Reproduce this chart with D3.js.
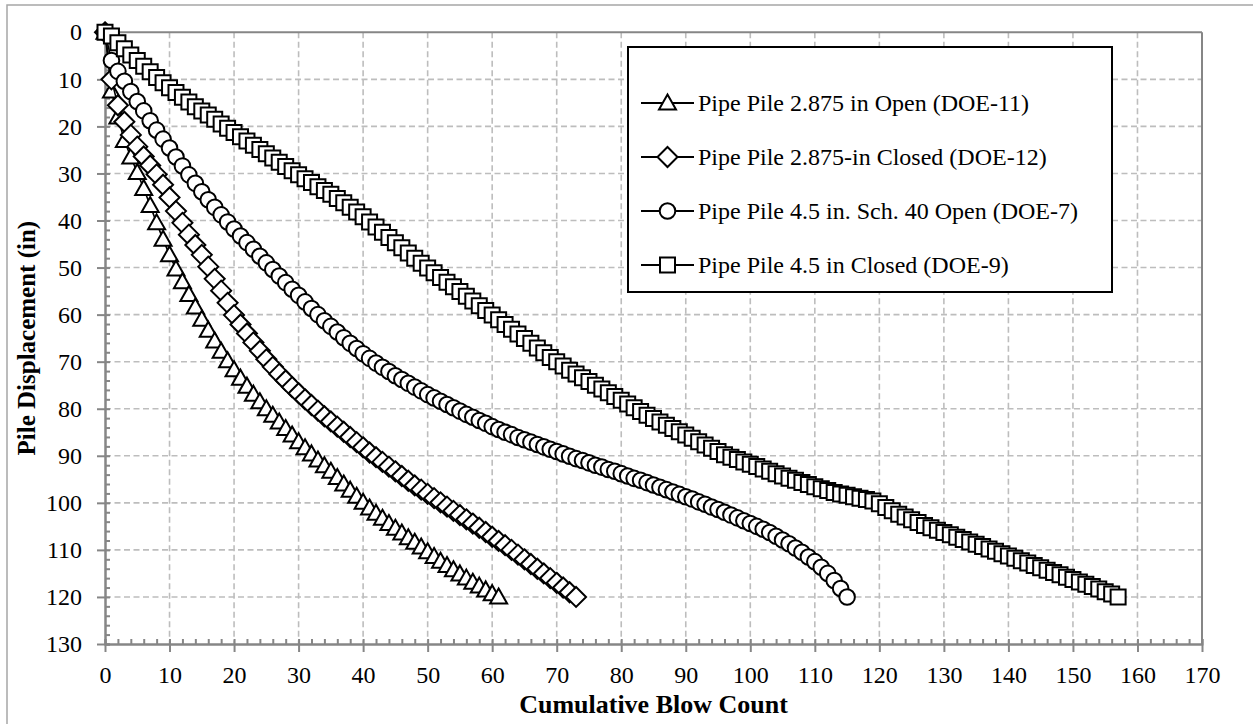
<!DOCTYPE html>
<html>
<head>
<meta charset="utf-8">
<script src="https://cdn.jsdelivr.net/npm/d3@7"></script>
<style>
  html, body { margin: 0; padding: 0; background: #fff; }
  svg { display: block; }
  text { font-family: "Times New Roman", "Liberation Serif", serif; fill: #000; }
</style>
</head>
<body>
<svg id="chart" width="1253" height="724"></svg>
<script>
// Cumulative pile displacement (in) after each blow; array index = cumulative blow count
const doe11 = [0,12.5,18,23,26.5,29.8,33.2,36.8,40.5,44,47.3,50.3,53,55.7,58.4,61,63.3,65.6,67.8,69.8,
  71.7,73.5,75.2,76.9,78.5,80,81.4,82.8,84.2,85.6,87,88.3,89.6,90.9,92.1,93.3,94.6,96,97.3,98.6,
  99.9,101.1,102.2,103.3,104.4,105.4,106.4,107.4,108.4,109.4,110.4,111.4,112.4,113.3,114.2,115.1,116,116.9,117.7,118.5,
  119.3,120];

const doe12 = [0,10,15.5,19,21.8,24.3,26.4,28.3,30.2,32.4,35.1,38,40.5,43,45.2,47.3,49.8,52.4,54.9,57.5,
  60.1,62.1,64,65.9,67.7,69.5,71.1,72.6,74,75.4,76.7,78,79.2,80.4,81.6,82.7,83.8,84.9,86,87.1,
  88.2,89.3,90.3,91.3,92.3,93.3,94.3,95.3,96.3,97.2,98.1,99,99.9,100.8,101.7,102.6,103.5,104.4,105.3,106.2,
  107.2,108.1,109,110,111,112,113,114,115,116,117,118,119,120];

const doe7 = [0,6,8.3,10.4,12.6,14.7,16.7,18.8,20.8,22.7,24.6,26.5,28.4,30.3,32.1,33.9,35.6,37.2,38.8,40.3,
  41.8,43.3,44.7,46.1,47.6,49,50.4,51.8,53.2,54.6,55.9,57.3,58.7,60,61.3,62.5,63.7,64.9,66.1,67.2,
  68.3,69.3,70.3,71.2,72.1,73,73.8,74.6,75.4,76.2,77,77.7,78.4,79.1,79.8,80.5,81.2,81.8,82.5,83.1,
  83.8,84.4,85,85.5,86.1,86.6,87.1,87.6,88.1,88.6,89.1,89.6,90.1,90.6,91,91.5,92,92.4,92.9,93.3,
  93.8,94.3,94.8,95.2,95.7,96.2,96.7,97.2,97.7,98.2,98.7,99.2,99.8,100.3,100.9,101.4,102,102.6,103.2,103.8,
  104.4,105,105.6,106.3,107.1,107.9,108.7,109.6,110.5,111.5,112.5,113.7,115,116.5,118.2,120];

const doe9 = [0,0.8,2.2,3.5,4.8,6,7.2,8.4,9.6,10.7,11.8,12.8,13.8,14.8,15.8,16.7,17.6,18.5,19.5,20.4,
  21.3,22.2,23.1,24,24.9,25.8,26.7,27.6,28.5,29.4,30.3,31.1,31.9,32.8,33.6,34.4,35.3,36.2,37.2,38.2,
  39.2,40.3,41.4,42.5,43.6,44.7,45.8,46.9,48,49.1,50.1,51.1,52.1,53.1,54.1,55.1,56.1,57.1,58.1,59.1,
  60.1,61.1,62.1,63.1,64.1,65.1,66.1,67.1,68.1,69.1,70,70.9,71.8,72.6,73.4,74.2,75,75.8,76.6,77.4,
  78.2,79,79.8,80.6,81.4,82.1,82.8,83.5,84.2,84.9,85.6,86.3,87,87.7,88.4,89.1,89.8,90.3,90.8,91.3,
  91.8,92.3,92.8,93.3,93.8,94.3,94.8,95.2,95.7,96.1,96.6,97,97.4,97.8,98.1,98.4,98.7,99,99.3,99.6,
  100.2,101,101.7,102.4,103,103.6,104.2,104.8,105.3,105.8,106.3,106.8,107.3,107.8,108.3,108.8,109.3,109.8,110.3,110.8,
  111.3,111.8,112.3,112.8,113.3,113.8,114.3,114.8,115.3,115.8,116.3,116.8,117.3,117.8,118.3,118.9,119.4,120];

const seriesNames = [
  "Pipe Pile 2.875 in Open (DOE-11)",
  "Pipe Pile 2.875-in Closed (DOE-12)",
  "Pipe Pile 4.5 in. Sch. 40 Open (DOE-7)",
  "Pipe Pile 4.5 in Closed (DOE-9)"
];
const seriesValues = [doe11, doe12, doe7, doe9];
const seriesSymbols = ["triangle", "diamond", "circle", "square"];

const xTicks = [0,10,20,30,40,50,60,70,80,90,100,110,120,130,140,150,160,170];
const yTicks = [0,10,20,30,40,50,60,70,80,90,100,110,120,130];
const xMinorTicks = d3.range(0, 171, 2);
const yMinorTicks = d3.range(0, 131, 2);

const xTitle = "Cumulative Blow Count";
const yTitle = "Pile Displacement (in)";

// ---------------------------------------------------------------
const svg = d3.select("#chart");
const plot = { left: 105, right: 1202, top: 32.3, bottom: 644 };
const x = d3.scaleLinear().domain([0, 170]).range([plot.left, plot.right]);
const y = d3.scaleLinear().domain([0, 130]).range([plot.top, plot.bottom]);

const axisGrey = "#868686";
const gridGrey = "#bdbdbd";

// outer chart frame
svg.append("rect")
  .attr("x", 7).attr("y", 5).attr("width", 1260).attr("height", 740)
  .attr("fill", "none").attr("stroke", "#a6a6a6").attr("stroke-width", 1.5);

// gridlines
const grid = svg.append("g");
grid.selectAll("line.v").data(xTicks.slice(1, -1)).join("line")
  .attr("x1", d => x(d)).attr("x2", d => x(d))
  .attr("y1", plot.top).attr("y2", plot.bottom)
  .attr("stroke", gridGrey).attr("stroke-width", 1.6).attr("stroke-dasharray", "6,3.5");
grid.selectAll("line.h").data(yTicks.slice(1, -1)).join("line")
  .attr("y1", d => y(d)).attr("y2", d => y(d))
  .attr("x1", plot.left).attr("x2", plot.right)
  .attr("stroke", gridGrey).attr("stroke-width", 1.6).attr("stroke-dasharray", "6,3.5");

// top and right frame of the plot area
svg.append("line").attr("x1", plot.left).attr("x2", plot.right).attr("y1", plot.top).attr("y2", plot.top)
  .attr("stroke", axisGrey).attr("stroke-width", 2);
svg.append("line").attr("x1", plot.right).attr("x2", plot.right).attr("y1", plot.top).attr("y2", plot.bottom)
  .attr("stroke", axisGrey).attr("stroke-width", 2);

function styleAxis(g) {
  g.select(".domain").attr("stroke", axisGrey).attr("stroke-width", 2);
  g.selectAll(".tick line").attr("stroke", axisGrey).attr("stroke-width", 2);
  g.selectAll(".tick text").attr("font-size", 24)
    .attr("font-family", "'Times New Roman', 'Liberation Serif', serif").attr("fill", "#000");
}

// minor ticks (inside)
const xMinor = svg.append("g").attr("transform", `translate(0,${plot.bottom})`)
  .call(d3.axisTop(x).tickValues(xMinorTicks).tickSize(5).tickFormat(""));
styleAxis(xMinor);
const yMinor = svg.append("g").attr("transform", `translate(${plot.left},0)`)
  .call(d3.axisRight(y).tickValues(yMinorTicks).tickSize(5).tickFormat(""));
styleAxis(yMinor);

// major axes
const xAxis = svg.append("g").attr("transform", `translate(0,${plot.bottom})`)
  .call(d3.axisBottom(x).tickValues(xTicks).tickSize(8).tickPadding(14).tickSizeOuter(0));
styleAxis(xAxis);
const yAxis = svg.append("g").attr("transform", `translate(${plot.left},0)`)
  .call(d3.axisLeft(y).tickValues(yTicks).tickSize(8).tickPadding(15).tickSizeOuter(0));
styleAxis(yAxis);

// axis titles
svg.append("text").attr("x", (plot.left + plot.right) / 2).attr("y", 713)
  .attr("text-anchor", "middle").attr("font-size", 26).attr("font-weight", "bold").text(xTitle);
svg.append("text").attr("transform", `translate(35,${(plot.top + plot.bottom) / 2}) rotate(-90)`)
  .attr("text-anchor", "middle").attr("font-size", 25).attr("font-weight", "bold").text(yTitle);

// marker shapes
function markerPath(kind) {
  if (kind === "triangle") return "M0,-8.5L8.5,6.5L-8.5,6.5Z";
  if (kind === "diamond") return "M0,-10L10,0L0,10L-10,0Z";
  if (kind === "square") return "M-7.5,-7.5H7.5V7.5H-7.5Z";
  return d3.arc()({ innerRadius: 0, outerRadius: 7.8, startAngle: 0, endAngle: 2 * Math.PI });
}

const line = d3.line().x((d, i) => x(i)).y(d => y(d));

const seriesG = svg.append("g");
seriesValues.forEach((vals, s) => {
  const g = seriesG.append("g");
  g.append("path").datum(vals).attr("d", line)
    .attr("fill", "none").attr("stroke", "#000").attr("stroke-width", 1.6);
  g.selectAll("path.m").data(vals).join("path")
    .attr("class", "m")
    .attr("transform", (d, i) => `translate(${x(i)},${y(d)})`)
    .attr("d", markerPath(seriesSymbols[s]))
    .attr("fill", "#fff").attr("stroke", "#000").attr("stroke-width", 2);
});

// legend
const legend = svg.append("g");
legend.append("rect").attr("x", 628).attr("y", 47).attr("width", 484).attr("height", 245)
  .attr("fill", "#fff").attr("stroke", "#000").attr("stroke-width", 2);
seriesNames.forEach((name, s) => {
  const cy = 103 + s * 54;
  legend.append("line").attr("x1", 641).attr("x2", 694).attr("y1", cy).attr("y2", cy)
    .attr("stroke", "#000").attr("stroke-width", 2);
  legend.append("path").attr("transform", `translate(667.5,${cy})`)
    .attr("d", markerPath(seriesSymbols[s]))
    .attr("fill", "#fff").attr("stroke", "#000").attr("stroke-width", 2);
  legend.append("text").attr("x", 698).attr("y", cy).attr("dy", "0.35em")
    .attr("font-size", 24).text(name);
});
</script>
</body>
</html>
